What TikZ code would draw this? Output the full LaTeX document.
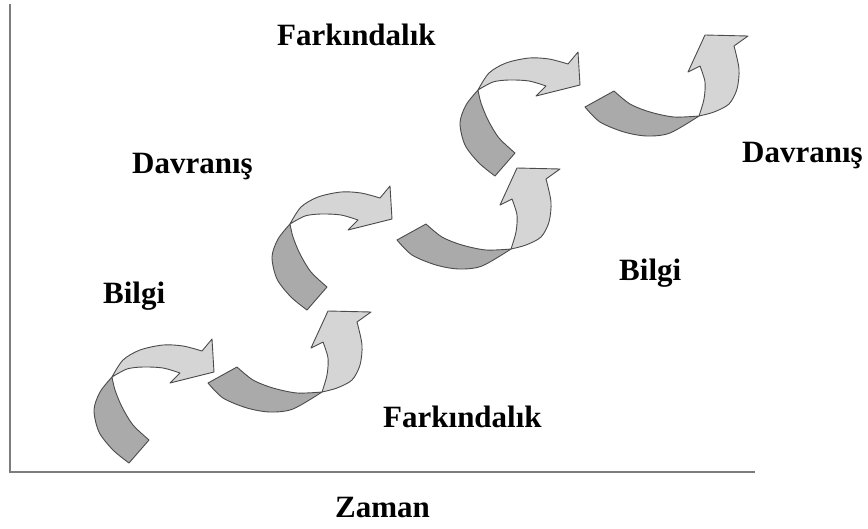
\documentclass[tikz,border=0pt]{standalone}
\usepackage{fontspec}
\setmainfont{Liberation Serif}
\definecolor{dk}{RGB}{170,170,170}
\definecolor{lt}{RGB}{213,213,213}
\definecolor{ol}{RGB}{75,75,75}
\definecolor{axgray}{RGB}{125,125,125}
\tikzset{
  darkpart/.style={fill=dk, draw=ol, line width=0.9pt, line join=round},
  lightpart/.style={fill=lt, draw=ol, line width=0.9pt, line join=round},
  lbl/.style={font=\fontsize{31}{36}\selectfont\bfseries, anchor=base west, inner sep=0pt},
  axisline/.style={draw=axgray, line width=2pt}
}
\newcommand\myArrowA{%
  \filldraw[darkpart] plot[smooth] coordinates {(129,463) (113,450) (99,432) (94,410) (100,392) (112,377)}
    -- plot[smooth] coordinates {(112,377) (115,390) (122,407) (133,425) (149,440)} -- cycle;
  \filldraw[lightpart] plot[smooth] coordinates {(112,377) (123,360) (140,350) (163,345) (183,346) (202,351)}
    -- (212,339) -- (214,372) -- (170,383)
    -- plot[smooth] coordinates {(180,373) (163,368) (143,367) (127,369) (112,377)} -- cycle;
}
\newcommand\myArrowB{%
  \filldraw[darkpart] plot[smooth] coordinates {(208,383) (223,398) (247,408) (270,412) (293,409) (322,392)}
    -- plot[smooth] coordinates {(322,392) (297,393) (273,388) (253,380) (237,367)} -- cycle;
  \filldraw[lightpart] plot[smooth] coordinates {(322,392) (337,388) (352,380) (360,365) (362,345) (357,322)}
    -- (371,312) -- (328,311) -- (311,348)
    -- plot[smooth] coordinates {(323,342) (328,358) (327,375) (322,392)} -- cycle;
}
\begin{document}
\begin{tikzpicture}[x=1pt,y=-1pt]
\useasboundingbox[fill=white] (0,0) rectangle (868,528);
% axes
\coordinate (ytop) at (10,4);
\coordinate (origin) at (10,472);
\coordinate (xend) at (755,472);
\draw[axisline] (ytop) -- (origin) -- (xend);
% arrows
\myArrowA
\myArrowB
\begin{scope}[shift={(178,-153)}]\myArrowA\end{scope}
\begin{scope}[shift={(189,-143)}]\myArrowB\end{scope}
\begin{scope}[shift={(366,-287)}]\myArrowA\end{scope}
\begin{scope}[shift={(377,-276)}]\myArrowB\end{scope}
% labels
\node[lbl] (f1) at (277,45) {Farkındalık};
\node[lbl] (d1) at (132,173) {Davranış};
\node[lbl] (b1) at (103,303) {Bilgi};
\node[lbl] (f2) at (383,427) {Farkındalık};
\node[lbl] (b2) at (619,280) {Bilgi};
\node[lbl] (d2) at (742,162) {Davranış};
\node[lbl] (z) at (335,517) {Zaman};
\end{tikzpicture}
\end{document}
